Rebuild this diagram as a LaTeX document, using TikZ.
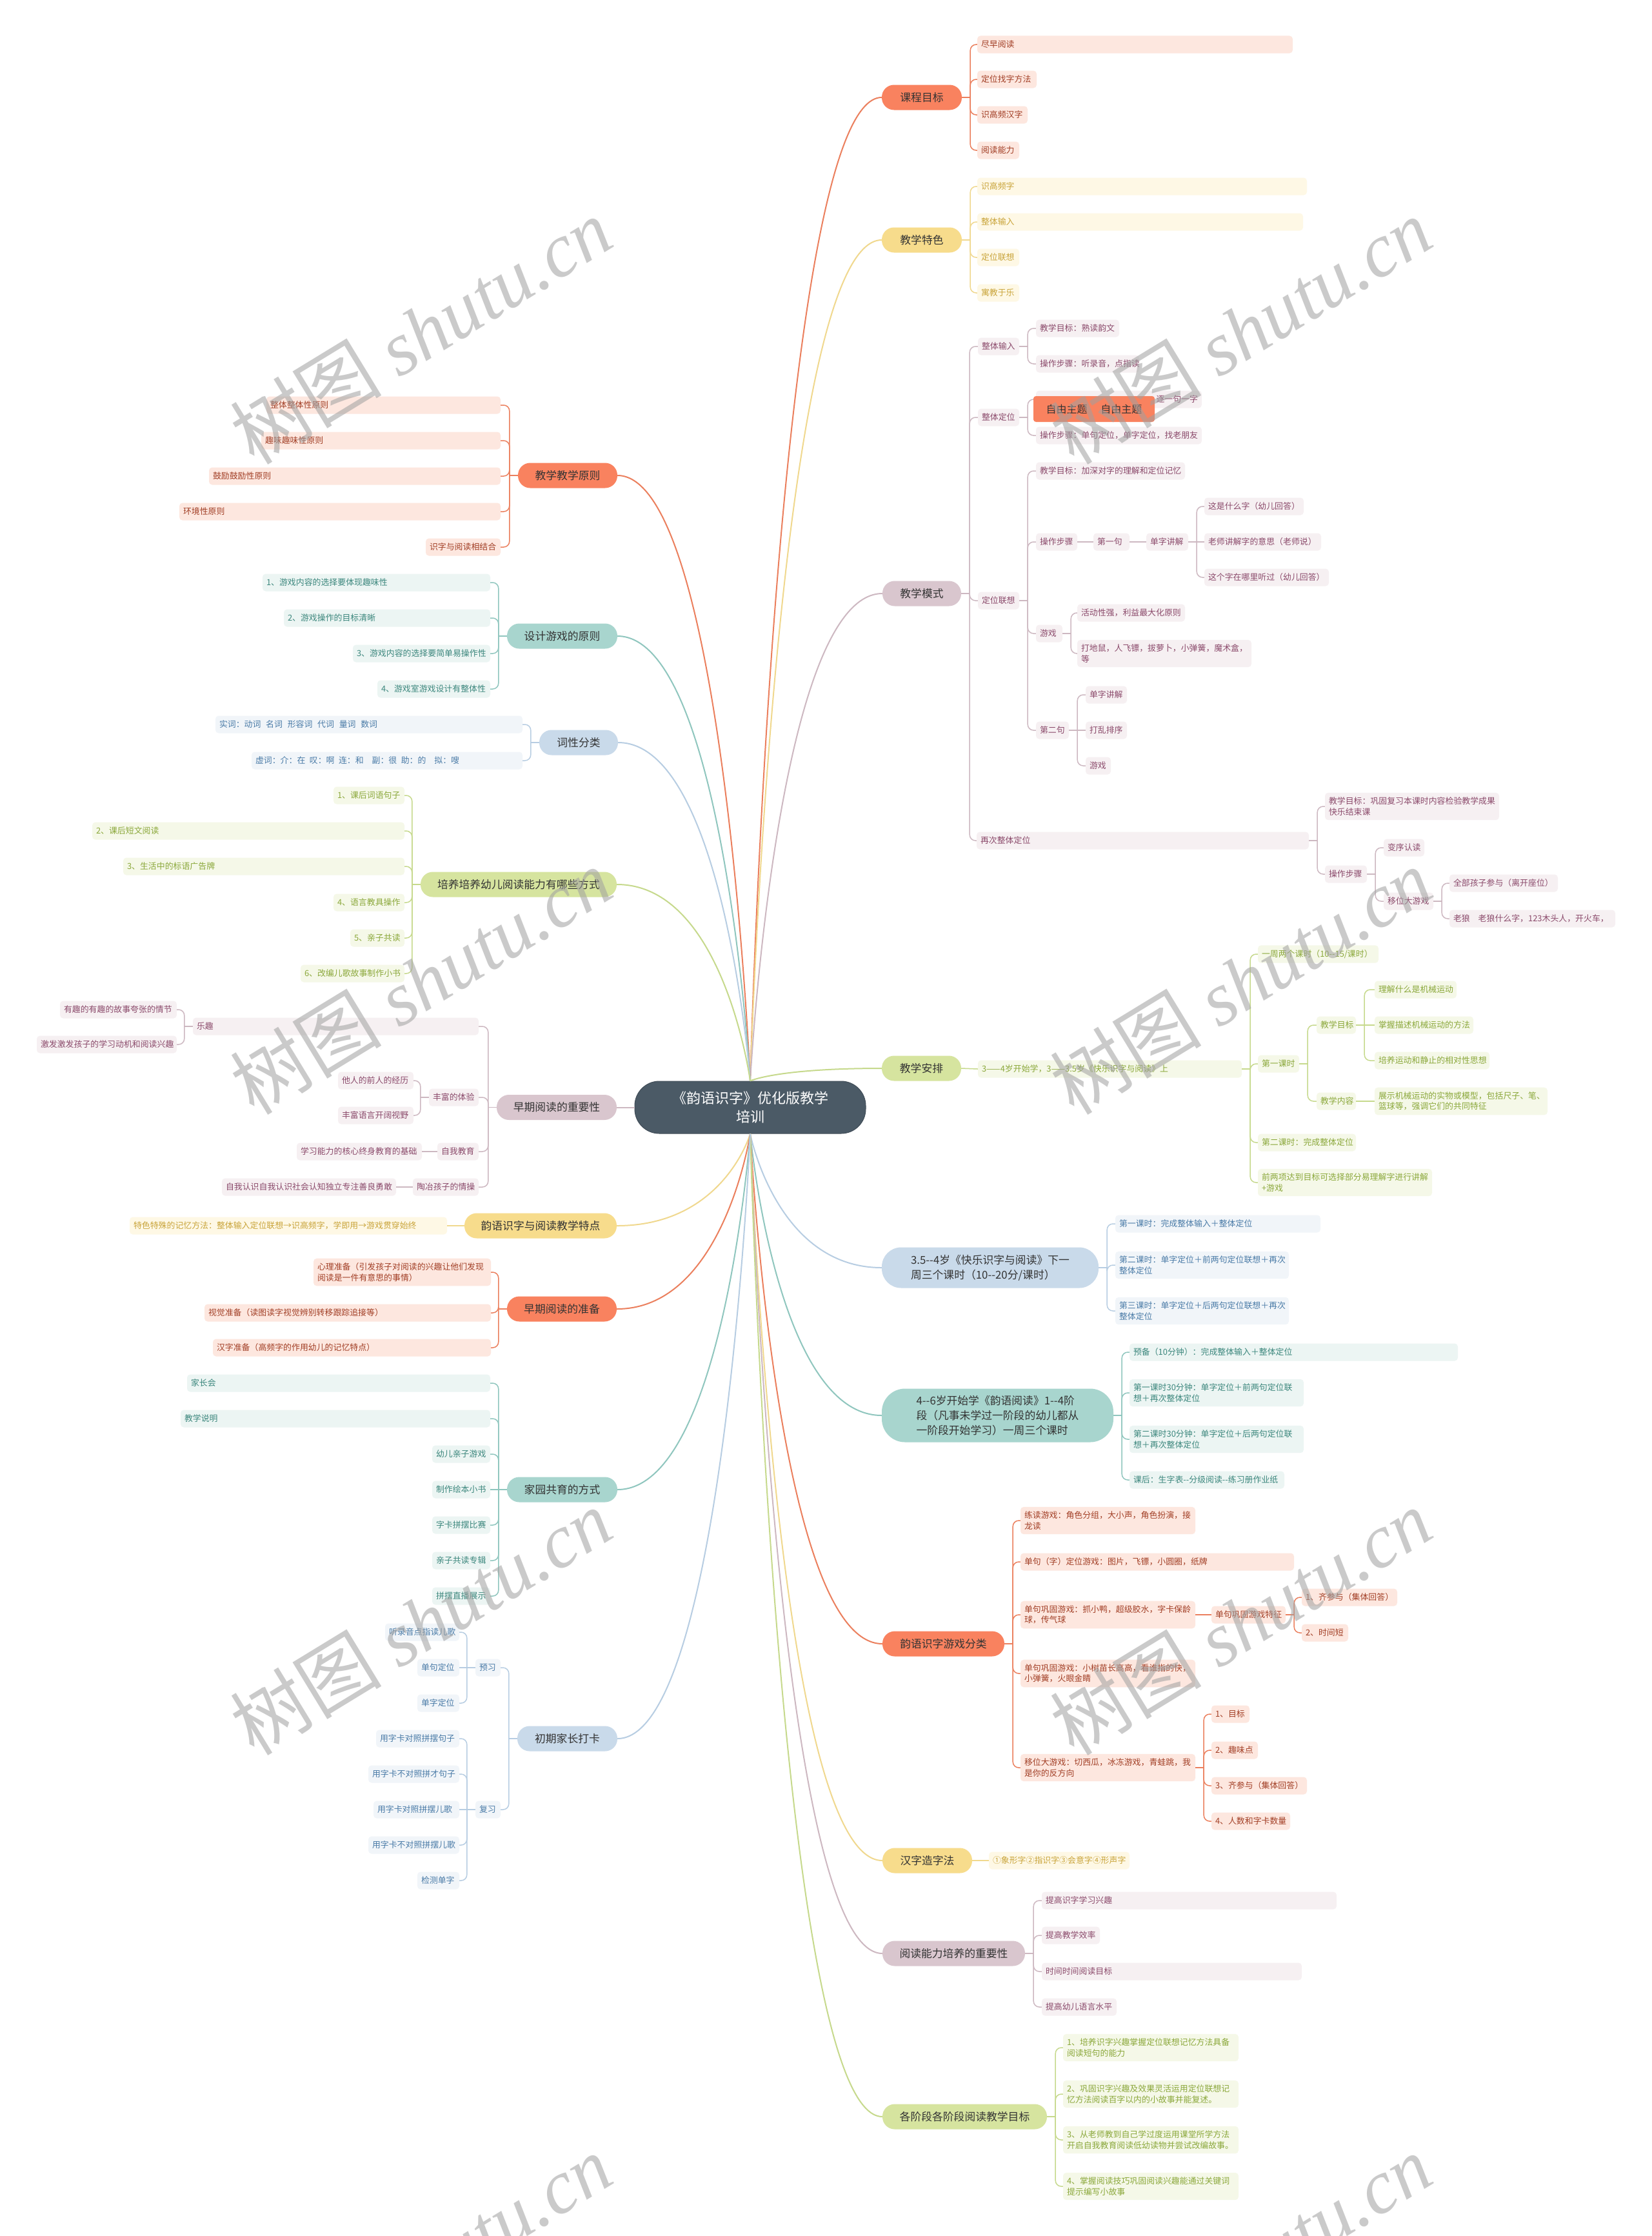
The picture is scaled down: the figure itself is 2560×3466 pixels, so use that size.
\documentclass[tikz,border=0pt]{standalone}
\usepackage{fontspec}
\setmainfont{Noto Sans CJK SC}[Ligatures=TeXOff]
\newfontfamily\wmfont{Liberation Serif}
\usetikzlibrary{calc}
\definecolor{oP}{HTML}{F9825F}\definecolor{oL}{HTML}{FDE7DF}\definecolor{oT}{HTML}{A23F26}\definecolor{oC}{HTML}{EB7F5D}
\definecolor{yP}{HTML}{F7DC8C}\definecolor{yL}{HTML}{FEF8E5}\definecolor{yT}{HTML}{C9A43A}\definecolor{yC}{HTML}{F0D88E}
\definecolor{mP}{HTML}{D9C6CE}\definecolor{mL}{HTML}{F6F0F2}\definecolor{mT}{HTML}{8B4A6B}\definecolor{mC}{HTML}{CDB8C1}
\definecolor{gP}{HTML}{D6E49F}\definecolor{gL}{HTML}{F5F8E8}\definecolor{gT}{HTML}{8BA83B}\definecolor{gC}{HTML}{C6D98C}
\definecolor{bP}{HTML}{C9DAEA}\definecolor{bL}{HTML}{F1F5F9}\definecolor{bT}{HTML}{4A7BA7}\definecolor{bC}{HTML}{B7CDE2}
\definecolor{tP}{HTML}{A8D5CE}\definecolor{tL}{HTML}{ECF5F3}\definecolor{tT}{HTML}{3C877D}\definecolor{tC}{HTML}{8FC6BE}
\definecolor{cP}{HTML}{4B5A66}\definecolor{txt}{HTML}{333333}\definecolor{wm}{HTML}{A0A0A0}
\tikzset{
 leafbase/.style={font=\fontsize{12.9}{16.3}\selectfont, inner xsep=6pt, inner ysep=7pt, minimum height=27pt, rounded corners=5pt, align=left},
 leafO/.style={leafbase, fill=oL, text=oT},
 leafY/.style={leafbase, fill=yL, text=yT},
 leafM/.style={leafbase, fill=mL, text=mT},
 leafG/.style={leafbase, fill=gL, text=gT},
 leafB/.style={leafbase, fill=bL, text=bT},
 leafT/.style={leafbase, fill=tL, text=tT},
 pillbase/.style={font=\fontsize{16.8}{23}\selectfont, rounded corners=19pt, inner xsep=4pt, text=txt, align=center},
 pillO/.style={pillbase, fill=oP}, pillY/.style={pillbase, fill=yP}, pillM/.style={pillbase, fill=mP},
 pillG/.style={pillbase, fill=gP}, pillB/.style={pillbase, fill=bP}, pillT/.style={pillbase, fill=tP},
 lnO/.style={draw=oC, line width=1.5pt}, lnY/.style={draw=yC, line width=1.5pt}, lnM/.style={draw=mC, line width=1.5pt},
 lnG/.style={draw=gC, line width=1.5pt}, lnB/.style={draw=bC, line width=1.5pt}, lnT/.style={draw=tC, line width=1.5pt},
}
\newcommand{\leafnode}[6]{\pgfmathsetmacro{\leafw}{#3-#2-12}\pgfmathsetmacro{\leafx}{(#2+#3)/2}\node[#1, text width=\leafw pt] (#5) at (\leafx,#4) {#6};}
\newcommand{\pillnode}[7]{\pgfmathsetmacro{\pillw}{#3-#2}\pgfmathsetmacro{\pillx}{(#2+#3)/2}\node[#1, minimum width=\pillw pt, minimum height=#5 pt] (#6) at (\pillx,#4) {#7};}
\newcommand{\conR}[3]{\draw[#1] (#2.east) -- ++(13,0);\foreach \kid in {#3}{\draw[#1, rounded corners=9pt] ([xshift=13pt]#2.east) |- (\kid.west);}}
\newcommand{\conL}[3]{\draw[#1] (#2.west) -- ++(-13,0);\foreach \kid in {#3}{\draw[#1, rounded corners=9pt] ([xshift=-13pt]#2.west) |- (\kid.east);}}
\newcommand{\conS}[3]{\draw[#1] (#2) -- (#3);}
\newcommand{\mainc}[3]{\draw[#1, line width=2pt] let \p1=(#2), \p2=(#3) in (\p1) .. controls (\p1) and ({\x1+0.2*(\x2-\x1)},\y2) .. (\p2);}
\begin{document}
\begin{tikzpicture}[x=1pt,y=-1pt]
\useasboundingbox (0,0) rectangle (2560,3466);
\fill[white] (0,0) rectangle (2560,3466);
% center
\node[draw=cP!85!black, fill=cP, text=white, rounded corners=38pt, minimum width=358pt, minimum height=81pt, align=center, font=\fontsize{22}{29}\selectfont, line width=1pt] (c) at (1163,1716.5) {《韵语识字》优化版教学\\培训};
% ===== right side pills
\pillnode{pillO}{1367}{1491}{151}{39}{kc}{课程目标}
\pillnode{pillY}{1367}{1491}{372}{39}{ts}{教学特色}
\pillnode{pillM}{1368}{1490}{920}{39}{ms}{教学模式}
\pillnode{pillG}{1367}{1490}{1656}{39}{ap}{教学安排}
\pillnode{pillB, align=left, rounded corners=30pt}{1367}{1703}{1965}{63}{k35}{3.5--4岁《快乐识字与阅读》下一\\周三个课时（10--20分/课时）}
\pillnode{pillT, align=left, rounded corners=36pt}{1367}{1726}{2194}{83}{k46}{4--6岁开始学《韵语阅读》1--4阶\\段（凡事未学过一阶段的幼儿都从\\一阶段开始学习）一周三个课时}
\pillnode{pillO}{1368}{1557}{2548}{39}{yx}{韵语识字游戏分类}
\pillnode{pillY}{1368}{1507}{2884}{39}{hz}{汉字造字法}
\pillnode{pillM}{1368}{1589}{3028}{39}{yd}{阅读能力培养的重要性}
\pillnode{pillG}{1368}{1623}{3281}{39}{jd}{各阶段各阶段阅读教学目标}
% ===== left side pills
\pillnode{pillO}{803}{957}{737}{39}{yz}{教学教学原则}
\pillnode{pillT}{786}{957}{986}{39}{sj}{设计游戏的原则}
\pillnode{pillB}{836}{958}{1151}{39}{cx}{词性分类}
\pillnode{pillG}{652}{956}{1371}{39}{py}{培养培养幼儿阅读能力有哪些方式}
\pillnode{pillM}{770}{956}{1716.5}{39}{zq}{早期阅读的重要性}
\pillnode{pillY}{720}{956}{1900}{39}{td}{韵语识字与阅读教学特点}
\pillnode{pillO}{786}{956}{2029}{39}{zb}{早期阅读的准备}
\pillnode{pillT}{786}{957}{2309}{39}{jy}{家园共育的方式}
\pillnode{pillB}{802}{957}{2695}{39}{dk}{初期家长打卡}
% ===== main connectors
\mainc{draw=oC}{c.north}{kc.west}
\mainc{draw=yC}{c.north}{ts.west}
\mainc{draw=mC}{c.north}{ms.west}
\mainc{draw=gC}{c.north}{ap.west}
\mainc{draw=bC}{c.south}{k35.west}
\mainc{draw=tC}{c.south}{k46.west}
\mainc{draw=oC}{c.south}{yx.west}
\mainc{draw=yC}{c.south}{hz.west}
\mainc{draw=mC}{c.south}{yd.west}
\mainc{draw=gC}{c.south}{jd.west}
\mainc{draw=oC}{c.north}{yz.east}
\mainc{draw=tC}{c.north}{sj.east}
\mainc{draw=bC}{c.north}{cx.east}
\mainc{draw=gC}{c.north}{py.east}
\draw[draw=mC, line width=2pt] (zq.east) -- (c.west);
\mainc{draw=yC}{c.south}{td.east}
\mainc{draw=oC}{c.south}{zb.east}
\mainc{draw=tC}{c.south}{jy.east}
\mainc{draw=bC}{c.south}{dk.east}
% ===== 课程目标
\leafnode{leafO}{1515}{2004}{69}{kc1}{尽早阅读}
\leafnode{leafO}{1515}{1607}{123}{kc2}{定位找字方法}
\leafnode{leafO}{1515}{1593}{178}{kc3}{识高频汉字}
\leafnode{leafO}{1515}{1580}{233}{kc4}{阅读能力}
\conR{lnO}{kc}{kc1,kc2,kc3,kc4}
% ===== 教学特色
\leafnode{leafY}{1515}{2026}{289}{ts1}{识高频字}
\leafnode{leafY}{1515}{2020}{344}{ts2}{整体输入}
\leafnode{leafY}{1515}{1580}{399}{ts3}{定位联想}
\leafnode{leafY}{1515}{1580}{454}{ts4}{寓教于乐}
\conR{lnY}{ts}{ts1,ts2,ts3,ts4}
% ===== 教学模式
\leafnode{leafM}{1516}{1580}{537}{m1}{整体输入}
\leafnode{leafM}{1606}{1735}{509}{m11}{教学目标：熟读韵文}
\leafnode{leafM}{1606}{1766}{564}{m12}{操作步骤：听录音，点指读}
\leafnode{leafM}{1516}{1580}{647}{m2}{整体定位}
\leafnode{leafM, align=right}{1606}{1863}{619}{m21}{逐一句一字}
\leafnode{leafM}{1606}{1863}{675}{m22}{操作步骤：单句定位，单字定位，找老朋友}
\leafnode{leafM}{1516}{1580}{931}{m3}{定位联想}
\leafnode{leafM}{1606}{1837}{730}{m31}{教学目标：加深对字的理解和定位记忆}
\leafnode{leafM}{1606}{1670}{840}{m32}{操作步骤}
\leafnode{leafM}{1695}{1751}{840}{m321}{第一句}
\leafnode{leafM}{1777}{1842}{840}{m3211}{单字讲解}
\leafnode{leafM}{1867}{2021}{785}{m32111}{这是什么字（幼儿回答）}
\leafnode{leafM}{1867}{2048}{840}{m32112}{老师讲解字的意思（老师说）}
\leafnode{leafM}{1867}{2060}{895}{m32113}{这个字在哪里听过（幼儿回答）}
\leafnode{leafM}{1606}{1647}{982}{m33}{游戏}
\leafnode{leafM}{1670}{1837}{950}{m331}{活动性强，利益最大化原则}
\leafnode{leafM}{1670}{1940}{1013}{m332}{打地鼠，人飞镖，拔萝卜，小弹簧，魔术盒，\\等}
\leafnode{leafM}{1606}{1657}{1132}{m34}{第二句}
\leafnode{leafM}{1683}{1747}{1077}{m341}{单字讲解}
\leafnode{leafM}{1683}{1747}{1132}{m342}{打乱排序}
\leafnode{leafM}{1683}{1722}{1187}{m343}{游戏}
\leafnode{leafM}{1514}{2029}{1303}{m4}{再次整体定位}
\leafnode{leafM}{2054}{2324}{1250}{m41}{教学目标：巩固复习本课时内容检验教学成果\\快乐结束课}
\leafnode{leafM}{2054}{2119}{1355}{m42}{操作步骤}
\leafnode{leafM}{2145}{2208}{1314}{m421}{变序认读}
\leafnode{leafM}{2145}{2222}{1397}{m422}{移位大游戏}
\leafnode{leafM}{2247}{2415}{1369}{m4221}{全部孩子参与（离开座位）}
\leafnode{leafM}{2247}{2504}{1424}{m4222}{老狼　老狼什么字，123木头人，开火车，}
\conR{lnM}{ms}{m1,m2,m3,m4}
\conR{lnM}{m1}{m11,m12}
\conR{lnM}{m2}{m21,m22}
\conR{lnM}{m3}{m31,m32,m33,m34}
\conS{lnM}{m32.east}{m321.west}
\conS{lnM}{m321.east}{m3211.west}
\draw[lnM] (m3211.east) -- (m32112.west);
\conR{lnM}{m3211}{m32111,m32113}
\conR{lnM}{m33}{m331,m332}
\conR{lnM}{m34}{m341,m343}
\conS{lnM}{m34.east}{m342.west}
\conR{lnM}{m4}{m41,m42}
\conR{lnM}{m42}{m421,m422}
\conR{lnM}{m422}{m4221,m4222}
\node[fill=oP, text=txt, rounded corners=4pt, minimum width=188pt, minimum height=40pt, font=\fontsize{16}{20}\selectfont] (free) at (1696,634) {自由主题\hspace{1.3em}自由主题};
% ===== 教学安排
\leafnode{leafG}{1516}{1925}{1657}{a1}{3——4岁开始学，3——3.5岁《快乐识字与阅读》上}
\leafnode{leafG}{1950}{2137}{1479}{a11}{一周两个课时（10--15/课时）}
\leafnode{leafG}{1950}{2014}{1649}{a12}{第一课时}
\leafnode{leafG}{2041}{2102}{1589}{a121}{教学目标}
\leafnode{leafG}{2131}{2258}{1534}{a1211}{理解什么是机械运动}
\leafnode{leafG}{2131}{2284}{1589}{a1212}{掌握描述机械运动的方法}
\leafnode{leafG}{2131}{2309}{1644}{a1213}{培养运动和静止的相对性思想}
\leafnode{leafG}{2041}{2102}{1707}{a122}{教学内容}
\leafnode{leafG}{2131}{2399}{1707}{a1221}{展示机械运动的实物或模型，包括尺子、笔、\\篮球等，强调它们的共同特征}
\leafnode{leafG}{1950}{2102}{1771}{a13}{第二课时：完成整体定位}
\leafnode{leafG}{1950}{2220}{1833}{a14}{前两项达到目标可选择部分易理解字进行讲解\\+游戏}
\conS{lnG}{ap.east}{a1.west}
\conR{lnG}{a1}{a11,a12,a13,a14}
\conR{lnG}{a12}{a121,a122}
\conR{lnG}{a121}{a1211,a1213}
\conS{lnG}{a121.east}{a1212.west}
\conS{lnG}{a122.east}{a1221.west}
% ===== 3.5--4
\leafnode{leafB}{1729}{2047}{1897}{b1}{第一课时：完成整体输入＋整体定位}
\leafnode{leafB}{1729}{1998}{1961}{b2}{第二课时：单字定位＋前两句定位联想＋再次\\整体定位}
\leafnode{leafB}{1729}{1998}{2032}{b3}{第三课时：单字定位＋后两句定位联想＋再次\\整体定位}
\conR{lnB}{k35}{b1,b2,b3}
% ===== 4--6
\leafnode{leafT}{1751}{2260}{2096}{t1}{预备（10分钟）：完成整体输入＋整体定位}
\leafnode{leafT}{1751}{2021}{2159}{t2}{第一课时30分钟：单字定位＋前两句定位联\\想＋再次整体定位}
\leafnode{leafT}{1751}{2021}{2231}{t3}{第二课时30分钟：单字定位＋后两句定位联\\想＋再次整体定位}
\leafnode{leafT}{1751}{1991}{2294}{t4}{课后：生字表--分级阅读--练习册作业纸}
\conR{lnT}{k46}{t1,t2,t3,t4}
% ===== 游戏分类
\leafnode{leafO}{1582}{1853}{2357}{y1}{练读游戏：角色分组，大小声，角色扮演，接\\龙读}
\leafnode{leafO}{1582}{2006}{2421}{y2}{单句（字）定位游戏：图片，飞镖，小圆圈，纸牌}
\leafnode{leafO}{1582}{1853}{2503}{y3}{单句巩固游戏：抓小鸭，超级胶水，字卡保龄\\球，传气球}
\leafnode{leafO}{1878}{1993}{2503}{y31}{单句巩固游戏特征}
\leafnode{leafO}{2018}{2166}{2476}{y311}{1、齐参与（集体回答）}
\leafnode{leafO}{2018}{2090}{2531}{y312}{2、时间短}
\leafnode{leafO}{1582}{1853}{2594}{y4}{单句巩固游戏：小树苗长高高，看谁指的快，\\小弹簧，火眼金睛}
\leafnode{leafO}{1582}{1853}{2740}{y5}{移位大游戏：切西瓜，冰冻游戏，青蛙跳，我\\是你的反方向}
\leafnode{leafO}{1878}{1937}{2657}{y51}{1、目标}
\leafnode{leafO}{1878}{1950}{2713}{y52}{2、趣味点}
\leafnode{leafO}{1878}{2026}{2768}{y53}{3、齐参与（集体回答）}
\leafnode{leafO}{1878}{2000}{2823}{y54}{4、人数和字卡数量}
\conR{lnO}{yx}{y1,y2,y3,y4,y5}
\conS{lnO}{y3.east}{y31.west}
\conR{lnO}{y31}{y311,y312}
\conR{lnO}{y5}{y51,y52,y53,y54}
% ===== 汉字造字法
\leafnode{leafY}{1533}{1751}{2884}{h1}{①象形字②指识字③会意字④形声字}
\conS{lnY}{hz.east}{h1.west}
% ===== 阅读能力培养的重要性
\leafnode{leafM}{1615}{2072}{2946}{r1}{提高识字学习兴趣}
\leafnode{leafM}{1615}{1705}{3000}{r2}{提高教学效率}
\leafnode{leafM}{1615}{2018}{3056}{r3}{时间时间阅读目标}
\leafnode{leafM}{1615}{1731}{3111}{r4}{提高幼儿语言水平}
\conR{lnM}{yd}{r1,r2,r3,r4}
% ===== 各阶段
\leafnode{leafG}{1648}{1920}{3174}{j1}{1、培养识字兴趣掌握定位联想记忆方法具备\\阅读短句的能力}
\leafnode{leafG}{1648}{1920}{3246}{j2}{2、巩固识字兴趣及效果灵活运用定位联想记\\忆方法阅读百字以内的小故事并能复述。}
\leafnode{leafG}{1648}{1920}{3317}{j3}{3、从老师教到自己学过度运用课堂所学方法\\开启自我教育阅读低幼读物并尝试改编故事。}
\leafnode{leafG}{1648}{1920}{3389}{j4}{4、掌握阅读技巧巩固阅读兴趣能通过关键词\\提示编写小故事}
\conR{lnG}{jd}{j1,j2,j3,j4}
% ===== 教学教学原则
\leafnode{leafO}{413}{776}{628}{z1}{整体整体性原则}
\leafnode{leafO}{405}{776}{683}{z2}{趣味趣味性原则}
\leafnode{leafO}{324}{776}{738}{z3}{鼓励鼓励性原则}
\leafnode{leafO}{278}{776}{793}{z4}{环境性原则}
\leafnode{leafO}{660}{776}{848}{z5}{识字与阅读相结合}
\conL{lnO}{yz}{z1,z2,z3,z4,z5}
% ===== 设计游戏的原则
\leafnode{leafT}{407}{760}{903}{s1}{1、游戏内容的选择要体现趣味性}
\leafnode{leafT}{440}{760}{958}{s2}{2、游戏操作的目标清晰}
\leafnode{leafT}{547}{760}{1013}{s3}{3、游戏内容的选择要简单易操作性}
\leafnode{leafT}{585}{760}{1068}{s4}{4、游戏室游戏设计有整体性}
\conL{lnT}{sj}{s1,s2,s3,s4}
% ===== 词性分类
\leafnode{leafB}{334}{810}{1123}{c1}{实词：动词\hspace{0.6em}名词\hspace{0.6em}形容词\hspace{0.6em}代词\hspace{0.6em}量词\hspace{0.6em}数词}
\leafnode{leafB}{390}{810}{1179}{c2}{虚词：介：在\hspace{0.5em}叹：啊\hspace{0.5em}连：和\hspace{1em}副：很\hspace{0.5em}助：的\hspace{1em}拟：嗖}
\conL{lnB}{cx}{c1,c2}
% ===== 培养方式
\leafnode{leafG}{517}{627}{1233}{p1}{1、课后词语句子}
\leafnode{leafG}{143}{627}{1288}{p2}{2、课后短文阅读}
\leafnode{leafG}{191}{627}{1343}{p3}{3、生活中的标语广告牌}
\leafnode{leafG}{517}{627}{1399}{p4}{4、语言教具操作}
\leafnode{leafG}{543}{627}{1454}{p5}{5、亲子共读}
\leafnode{leafG}{466}{627}{1509}{p6}{6、改编儿歌故事制作小书}
\conL{lnG}{py}{p1,p2,p3,p4,p5,p6}
% ===== 早期阅读的重要性
\leafnode{leafM}{299}{742}{1591}{q1}{乐趣}
\leafnode{leafM}{93}{274}{1565}{q11}{有趣的有趣的故事夸张的情节}
\leafnode{leafM}{57}{274}{1619}{q12}{激发激发孩子的学习动机和阅读兴趣}
\leafnode{leafM}{665}{742}{1701}{q2}{丰富的体验}
\leafnode{leafM}{524}{641}{1675}{q21}{他人的前人的经历}
\leafnode{leafM}{524}{641}{1729}{q22}{丰富语言开阔视野}
\leafnode{leafM}{678}{742}{1785}{q3}{自我教育}
\leafnode{leafM}{460}{654}{1785}{q31}{学习能力的核心终身教育的基础}
\leafnode{leafM}{640}{742}{1840}{q4}{陶冶孩子的情操}
\leafnode{leafM}{344}{614}{1840}{q41}{自我认识自我认识社会认知独立专注善良勇敢}
\conL{lnM}{zq}{q1,q2,q3,q4}
\conL{lnM}{q1}{q11,q12}
\conL{lnM}{q2}{q21,q22}
\conS{lnM}{q3.west}{q31.east}
\conS{lnM}{q4.west}{q41.east}
% ===== 教学特点
\leafnode{leafY}{201}{693}{1900}{d1}{特色特殊的记忆方法：整体输入定位联想→识高频字，学即用→游戏贯穿始终}
\conS{lnY}{td.west}{d1.east}
% ===== 早期阅读的准备
\leafnode{leafO}{486}{761}{1972}{e1}{心理准备（引发孩子对阅读的兴趣让他们发现\\阅读是一件有意思的事情）}
\leafnode{leafO}{317}{761}{2035}{e2}{视觉准备（读图读字视觉辨别转移跟踪追接等）}
\leafnode{leafO}{330}{761}{2089}{e3}{汉字准备（高频字的作用幼儿的记忆特点）}
\conL{lnO}{zb}{e1,e2,e3}
% ===== 家园共育
\leafnode{leafT}{290}{760}{2144}{g1}{家长会}
\leafnode{leafT}{280}{760}{2199}{g2}{教学说明}
\leafnode{leafT}{670}{760}{2254}{g3}{幼儿亲子游戏}
\leafnode{leafT}{670}{760}{2309}{g4}{制作绘本小书}
\leafnode{leafT}{670}{760}{2364}{g5}{字卡拼摆比赛}
\leafnode{leafT}{670}{760}{2419}{g6}{亲子共读专辑}
\leafnode{leafT}{670}{760}{2474}{g7}{拼摆直播展示}
\conL{lnT}{jy}{g1,g2,g3,g5,g6,g7}
\conS{lnT}{jy.west}{g4.east}
% ===== 初期家长打卡
\leafnode{leafB}{737}{776}{2585}{k1}{预习}
\leafnode{leafB}{597}{712}{2530}{k11}{听录音点指读儿歌}
\leafnode{leafB}{647}{712}{2585}{k12}{单句定位}
\leafnode{leafB}{647}{712}{2640}{k13}{单字定位}
\leafnode{leafB}{737}{776}{2805}{k2}{复习}
\leafnode{leafB}{583}{712}{2695}{k21}{用字卡对照拼摆句子}
\leafnode{leafB}{571}{712}{2750}{k22}{用字卡不对照拼才句子}
\leafnode{leafB}{579}{712}{2805}{k23}{用字卡对照拼摆儿歌}
\leafnode{leafB}{571}{712}{2860}{k24}{用字卡不对照拼摆儿歌}
\leafnode{leafB}{647}{712}{2915}{k25}{检测单字}
\conL{lnB}{dk}{k1,k2}
\conL{lnB}{k1}{k11,k13}
\conS{lnB}{k1.west}{k12.east}
\conL{lnB}{k2}{k21,k22,k24,k25}
\conS{lnB}{k2.west}{k23.east}
% ===== watermarks
\foreach \wx/\wy [count=\wi] in {652/513, 1923/513, 652/1521, 1923/1521, 652/2514, 1923/2514, 652/3515, 1923/3515}{
 \node[rotate=31.4, text=wm, text opacity=0.55, inner sep=0pt, font=\fontsize{118}{118}\selectfont] (wm\wi) at (\wx,\wy) {树图 {\wmfont\itshape shutu.cn}};
}
\end{tikzpicture}
\end{document}
